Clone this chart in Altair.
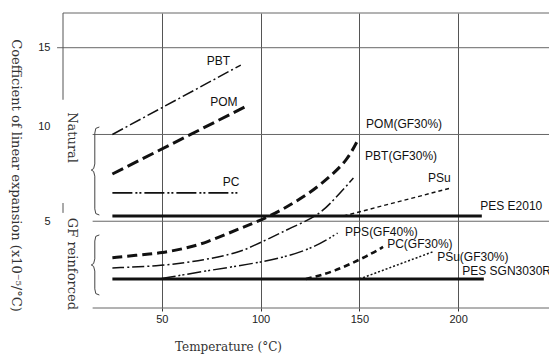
import altair as alt
import pandas as pd

# ---- data ----
series_names = ["PBT", "POM", "PC", "PES E2010", "PES SGN3030R",
                "POM(GF30%)", "PBT(GF30%)", "PPS(GF40%)", "PC(GF30%)", "PSu", "PSu(GF30%)"]

pbt_x = [25, 90]
pbt_y = [10.0, 14.0]
pom_x = [25, 93]
pom_y = [7.72, 11.64]
pc_x = [25, 89]
pc_y = [6.63, 6.63]
pes_e2010_x = [25, 212]
pes_e2010_y = [5.3, 5.3]
pes_sgn_x = [25, 213]
pes_sgn_y = [1.67, 1.67]
pom_gf_x = [25, 38, 50, 63, 73, 84, 94, 105, 115, 125, 135, 144, 149.5]
pom_gf_y = [2.9, 3.05, 3.17, 3.46, 3.8, 4.32, 4.78, 5.3, 5.94, 6.63, 7.55, 8.53, 9.74]
pbt_gf_x = [25, 50, 72, 89, 95, 105, 115, 129, 137, 143, 147]
pbt_gf_y = [2.31, 2.42, 2.77, 3.2, 3.52, 4.03, 4.61, 5.3, 6.22, 6.97, 7.49]
pps_gf_x = [50, 72, 95, 111, 128, 139]
pps_gf_y = [1.7, 2.13, 2.54, 2.88, 3.52, 4.32]
pc_gf_x = [123, 137, 155, 162]
pc_gf_y = [1.67, 2.07, 3.05, 3.52]
psu_x = [142, 196.5]
psu_y = [5.3, 6.92]
psu_gf_x = [150, 187]
psu_gf_y = [1.67, 3.23]

x_ticks = [50, 100, 150, 200]
y_ticks = [15, 10, 5]

series_xy = [pbt_x, pom_x, pc_x, pes_e2010_x, pes_sgn_x, pom_gf_x, pbt_gf_x, pps_gf_x, pc_gf_x, psu_x, psu_gf_x]
series_yy = [pbt_y, pom_y, pc_y, pes_e2010_y, pes_sgn_y, pom_gf_y, pbt_gf_y, pps_gf_y, pc_gf_y, psu_y, psu_gf_y]

# styles
dashes = [[12, 3, 2, 3], [12, 5], [20, 3, 2, 2, 2, 3], [1, 0], [1, 0],
          [10, 5], [12, 3, 2, 3], [14, 3, 2, 2, 2, 3], [6, 4], [4, 3], [2, 2]]
widths = [1.5, 3, 1.8, 3, 3, 3, 1.5, 1.5, 2.6, 1.4, 1.5]

# annotation labels
lab_text = ["PBT", "POM", "PC", "POM(GF30%)", "PBT(GF30%)", "PSu", "PES E2010",
            "PPS(GF40%)", "PC(GF30%)", "PSu(GF30%)", "PES SGN3030R"]
lab_x = [72.8, 74.5, 80.9, 153.4, 152.9, 184.8, 211.2, 142.8, 164.1, 189.4, 202.1]
lab_y = [14.25, 11.87, 7.26, 10.6, 8.76, 7.49, 5.88, 4.38, 3.69, 2.94, 2.13]
labels_df = pd.DataFrame({"text": lab_text, "x": lab_x, "y": lab_y})

# frame / grid lines
h_y = [17, 15, 10, 5, 0]
h_x1 = [0, -3, 15, 15, 15]
h_x2 = [246, 246, 246, 246, 246]
hrules_df = pd.DataFrame({"x": h_x1, "x2": h_x2, "y": h_y})
v_x = [0, 0]
v_y1 = [17, 6.05]
v_y2 = [12.0, 5.48]
vrules_df = pd.DataFrame({"x": v_x, "y": v_y1, "y2": v_y2})

# group labels and braces
grp_text = ["Natural", "GF reinforced"]
grp_x = [4.8, 4.8]
grp_y = [9.82, 2.54]
grp_df = pd.DataFrame({"text": grp_text, "x": grp_x, "y": grp_y})

brace_top = [10.43, 4.21]
brace_bot = [5.36, 0.75]
brace_mid = [7.95, 2.48]


def brace(name, top, bot, mid, xv=16.1, tip=14.3, hook=18.4):
    pts = [(hook, top), (16.6, top - 0.08), (xv, top - 0.35), (xv, mid + 0.35),
           (15.5, mid + 0.08), (tip, mid), (15.5, mid - 0.08), (xv, mid - 0.35),
           (xv, bot + 0.35), (16.6, bot + 0.08), (hook, bot)]
    return [{"b": name, "o": i, "x": p[0], "y": p[1]} for i, p in enumerate(pts)]


brace_rows = []
for i in range(2):
    brace_rows += brace(grp_text[i], brace_top[i], brace_bot[i], brace_mid[i])
brace_df = pd.DataFrame(brace_rows)

XS = alt.Scale(domain=[0, 246], nice=False, zero=False)
YS = alt.Scale(domain=[0, 17], nice=False, zero=False)

AX = alt.Axis(
    values=x_ticks, grid=True, gridColor="#555", gridWidth=1, domain=False,
    ticks=True, tickSize=3, tickColor="#333", labelPadding=2,
    labelFont="Liberation Sans", labelFontSize=11, labelColor="#222",
    title="Temperature (°C)", titleFont="DejaVu Serif", titleFontSize=12,
    titleFontWeight="normal", titleColor="#333", titleX=165, titleY=38,
    titleAlign="center", titleBaseline="middle")
AY = alt.Axis(
    values=y_ticks, grid=False, domain=False, ticks=False, labelPadding=13,
    labelFont="Liberation Sans", labelFontSize=11, labelColor="#222",
    labelOffset={"condition": {"test": "datum.value == 10", "value": -8}, "value": 0},
    title="Coefficient of linear expansion (x10⁻⁵/°C)", titleFont="DejaVu Serif",
    titleFontSize=13, titleFontWeight="normal", titleColor="#333",
    titleAngle=90, titleX=-48, titleY=162, titleAlign="center", titleBaseline="middle")


def X(field="x"):
    return alt.X(f"{field}:Q", scale=XS, axis=AX, title="Temperature (°C)")


def Y(field="y"):
    return alt.Y(f"{field}:Q", scale=YS, axis=AY, title="Coefficient of linear expansion (x10⁻⁵/°C)")


layers = []

hrules = alt.Chart(hrules_df).mark_rule(color="#666", strokeWidth=1).encode(
    x=X(), x2="x2:Q", y=Y())
layers.append(hrules)

vrules = alt.Chart(vrules_df).mark_rule(color="#555", strokeWidth=1).encode(
    x=X(), y=Y(), y2="y2:Q")
layers.append(vrules)

for name, xs, ys, dsh, w in zip(series_names, series_xy, series_yy, dashes, widths):
    df = pd.DataFrame({"x": xs, "y": ys, "series": name})
    layers.append(
        alt.Chart(df).mark_line(interpolate="basis", color="#111", strokeCap="butt",
                                strokeDash=dsh, strokeWidth=w).encode(x=X(), y=Y())
    )

braces = alt.Chart(brace_df).mark_line(color="#444", strokeWidth=1, interpolate="linear").encode(
    x=X(), y=Y(), detail="b:N", order="o:Q")
layers.append(braces)

labels = alt.Chart(labels_df).mark_text(align="left", baseline="middle", font="Liberation Sans",
                                        fontSize=12, color="#111").encode(
    x=X(), y=Y(), text="text:N")
layers.append(labels)

groups = alt.Chart(grp_df).mark_text(align="center", baseline="middle", angle=90, font="DejaVu Serif",
                                     fontSize=13, color="#333").encode(
    x=X(), y=Y(), text="text:N")
layers.append(groups)

chart = alt.layer(*layers).properties(
    width=486, height=295,
    padding={"left": 63, "top": 13, "right": 0, "bottom": 46},
    autosize=alt.AutoSizeParams(type="none"),
    background="white",
).configure_view(strokeWidth=0)

chart.save("out.html", embed_options={"renderer": "svg", "actions": False})
